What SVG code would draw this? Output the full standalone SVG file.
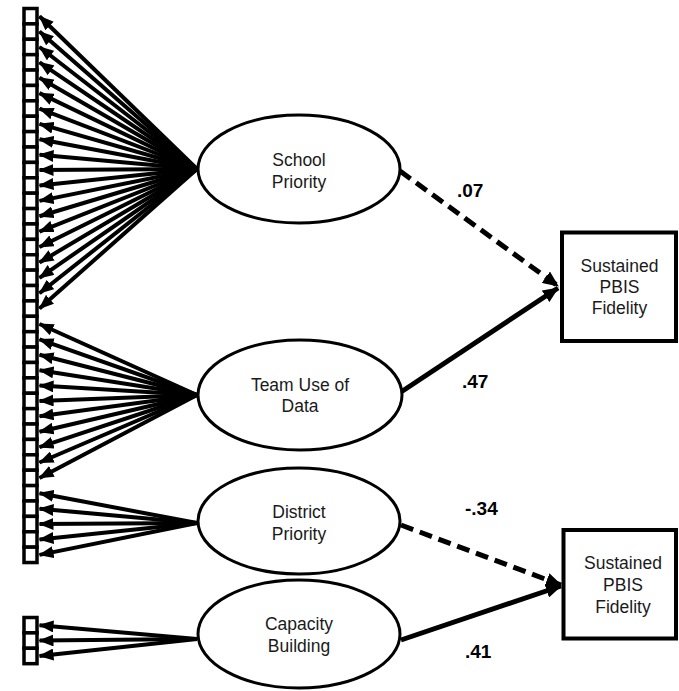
<svg xmlns="http://www.w3.org/2000/svg" width="679" height="691" viewBox="0 0 679 691">
<style>
.ind{fill:#fff;stroke:#000;stroke-width:3.5}
.lat{fill:#fff;stroke:#000;stroke-width:3}
.box{fill:#fff;stroke:#000;stroke-width:4}
.t{font-family:"Liberation Sans",Arial,sans-serif;font-size:17.5px;fill:#1a1a1a;text-anchor:middle}
.lb{font-family:"Liberation Sans",Arial,sans-serif;font-size:19px;font-weight:bold;fill:#000}
.load{stroke:#000;stroke-width:4;fill:none;marker-end:url(#ah)}
.path{stroke:#000;stroke-width:5;fill:none;marker-end:url(#bh)}
.dash{stroke-dasharray:13 7}
</style>
<defs>
<marker id="ah" markerUnits="userSpaceOnUse" markerWidth="15" markerHeight="12" refX="14" refY="6" orient="auto">
<path d="M0,0 L15,6 L0,12 z" fill="#000"/>
</marker>
<marker id="bh" markerUnits="userSpaceOnUse" markerWidth="16" markerHeight="14" refX="15" refY="7" orient="auto">
<path d="M0,0 L16,7 L0,14 z" fill="#000"/>
</marker>
</defs>
<g id="connectors">
<g id="school-loadings">
<line class="load" x1="197" y1="169" x2="39.5" y2="16.2"/>
<line class="load" x1="197" y1="169" x2="39.5" y2="31.59"/>
<line class="load" x1="197" y1="169" x2="39.5" y2="46.98"/>
<line class="load" x1="197" y1="169" x2="39.5" y2="62.37"/>
<line class="load" x1="197" y1="169" x2="39.5" y2="77.76"/>
<line class="load" x1="197" y1="169" x2="39.5" y2="93.15"/>
<line class="load" x1="197" y1="169" x2="39.5" y2="108.54"/>
<line class="load" x1="197" y1="169" x2="39.5" y2="123.93"/>
<line class="load" x1="197" y1="169" x2="39.5" y2="139.32"/>
<line class="load" x1="197" y1="169" x2="39.5" y2="154.71"/>
<line class="load" x1="197" y1="169" x2="39.5" y2="170.1"/>
<line class="load" x1="197" y1="169" x2="39.5" y2="185.49"/>
<line class="load" x1="197" y1="169" x2="39.5" y2="200.88"/>
<line class="load" x1="197" y1="169" x2="39.5" y2="216.27"/>
<line class="load" x1="197" y1="169" x2="39.5" y2="231.66"/>
<line class="load" x1="197" y1="169" x2="39.5" y2="247.05"/>
<line class="load" x1="197" y1="169" x2="39.5" y2="262.44"/>
<line class="load" x1="197" y1="169" x2="39.5" y2="277.83"/>
<line class="load" x1="197" y1="169" x2="39.5" y2="293.22"/>
<line class="load" x1="197" y1="169" x2="39.5" y2="308.61"/>
</g>
<g id="team-loadings">
<line class="load" x1="197" y1="395" x2="39.5" y2="324"/>
<line class="load" x1="197" y1="395" x2="39.5" y2="339.39"/>
<line class="load" x1="197" y1="395" x2="39.5" y2="354.78"/>
<line class="load" x1="197" y1="395" x2="39.5" y2="370.17"/>
<line class="load" x1="197" y1="395" x2="39.5" y2="385.56"/>
<line class="load" x1="197" y1="395" x2="39.5" y2="400.95"/>
<line class="load" x1="197" y1="395" x2="39.5" y2="416.34"/>
<line class="load" x1="197" y1="395" x2="39.5" y2="431.73"/>
<line class="load" x1="197" y1="395" x2="39.5" y2="447.12"/>
<line class="load" x1="197" y1="395" x2="39.5" y2="462.51"/>
<line class="load" x1="197" y1="395" x2="39.5" y2="477.9"/>
</g>
<g id="district-loadings">
<line class="load" x1="197" y1="523" x2="39.5" y2="493.29"/>
<line class="load" x1="197" y1="523" x2="39.5" y2="508.68"/>
<line class="load" x1="197" y1="523" x2="39.5" y2="524.07"/>
<line class="load" x1="197" y1="523" x2="39.5" y2="539.46"/>
<line class="load" x1="197" y1="523" x2="39.5" y2="554.85"/>
</g>
<g id="capacity-loadings">
<line class="load" x1="197" y1="639" x2="39.5" y2="625.2"/>
<line class="load" x1="197" y1="639" x2="39.5" y2="640.6"/>
<line class="load" x1="197" y1="639" x2="39.5" y2="656"/>
</g>
<g id="paths">
<line class="path dash" x1="400" y1="171" x2="558" y2="286"/>
<line class="path" x1="401" y1="392" x2="558" y2="288"/>
<line class="path dash" x1="401" y1="525" x2="561" y2="585"/>
<line class="path" x1="401" y1="640" x2="561" y2="586"/>
</g>
</g>
<g id="indicators">
<rect class="ind" x="24" y="8.5" width="13" height="15.39"/>
<rect class="ind" x="24" y="23.89" width="13" height="15.39"/>
<rect class="ind" x="24" y="39.28" width="13" height="15.39"/>
<rect class="ind" x="24" y="54.67" width="13" height="15.39"/>
<rect class="ind" x="24" y="70.06" width="13" height="15.39"/>
<rect class="ind" x="24" y="85.45" width="13" height="15.39"/>
<rect class="ind" x="24" y="100.84" width="13" height="15.39"/>
<rect class="ind" x="24" y="116.23" width="13" height="15.39"/>
<rect class="ind" x="24" y="131.62" width="13" height="15.39"/>
<rect class="ind" x="24" y="147.01" width="13" height="15.39"/>
<rect class="ind" x="24" y="162.4" width="13" height="15.39"/>
<rect class="ind" x="24" y="177.79" width="13" height="15.39"/>
<rect class="ind" x="24" y="193.18" width="13" height="15.39"/>
<rect class="ind" x="24" y="208.57" width="13" height="15.39"/>
<rect class="ind" x="24" y="223.96" width="13" height="15.39"/>
<rect class="ind" x="24" y="239.35" width="13" height="15.39"/>
<rect class="ind" x="24" y="254.74" width="13" height="15.39"/>
<rect class="ind" x="24" y="270.13" width="13" height="15.39"/>
<rect class="ind" x="24" y="285.52" width="13" height="15.39"/>
<rect class="ind" x="24" y="300.91" width="13" height="15.39"/>
<rect class="ind" x="24" y="316.3" width="13" height="15.39"/>
<rect class="ind" x="24" y="331.69" width="13" height="15.39"/>
<rect class="ind" x="24" y="347.08" width="13" height="15.39"/>
<rect class="ind" x="24" y="362.47" width="13" height="15.39"/>
<rect class="ind" x="24" y="377.86" width="13" height="15.39"/>
<rect class="ind" x="24" y="393.25" width="13" height="15.39"/>
<rect class="ind" x="24" y="408.64" width="13" height="15.39"/>
<rect class="ind" x="24" y="424.03" width="13" height="15.39"/>
<rect class="ind" x="24" y="439.42" width="13" height="15.39"/>
<rect class="ind" x="24" y="454.81" width="13" height="15.39"/>
<rect class="ind" x="24" y="470.2" width="13" height="15.39"/>
<rect class="ind" x="24" y="485.59" width="13" height="15.39"/>
<rect class="ind" x="24" y="500.98" width="13" height="15.39"/>
<rect class="ind" x="24" y="516.37" width="13" height="15.39"/>
<rect class="ind" x="24" y="531.76" width="13" height="15.39"/>
<rect class="ind" x="24" y="547.15" width="13" height="15.39"/>
<rect class="ind" x="24" y="617.5" width="13" height="15.39"/>
<rect class="ind" x="24" y="632.89" width="13" height="15.39"/>
<rect class="ind" x="24" y="648.28" width="13" height="15.39"/>
</g>
<g id="school-priority">
<ellipse class="lat" cx="299" cy="169" rx="101" ry="54"/>
<text class="t" x="299" y="166">School</text>
<text class="t" x="299" y="188">Priority</text>
</g>
<g id="team-use-of-data">
<ellipse class="lat" cx="300" cy="395" rx="102" ry="55"/>
<text class="t" x="300" y="391">Team Use of</text>
<text class="t" x="300" y="412">Data</text>
</g>
<g id="district-priority">
<ellipse class="lat" cx="299" cy="521" rx="101" ry="53"/>
<text class="t" x="299" y="518">District</text>
<text class="t" x="299" y="540">Priority</text>
</g>
<g id="capacity-building">
<ellipse class="lat" cx="299" cy="634" rx="101" ry="54"/>
<text class="t" x="299" y="630">Capacity</text>
<text class="t" x="299" y="652">Building</text>
</g>
<g id="fidelity-1">
<rect class="box" x="562" y="232.5" width="114" height="108.5"/>
<text class="t" x="619.5" y="272">Sustained</text>
<text class="t" x="619.5" y="293">PBIS</text>
<text class="t" x="619.5" y="314">Fidelity</text>
</g>
<g id="fidelity-2">
<rect class="box" x="563.5" y="530" width="112.5" height="108.5"/>
<text class="t" x="623" y="569">Sustained</text>
<text class="t" x="623" y="591">PBIS</text>
<text class="t" x="623" y="613">Fidelity</text>
</g>
<g id="labels">
<text class="lb" x="457" y="197">.07</text>
<text class="lb" x="462" y="388">.47</text>
<text class="lb" x="465" y="515">-.34</text>
<text class="lb" x="465" y="658">.41</text>
</g>
</svg>
